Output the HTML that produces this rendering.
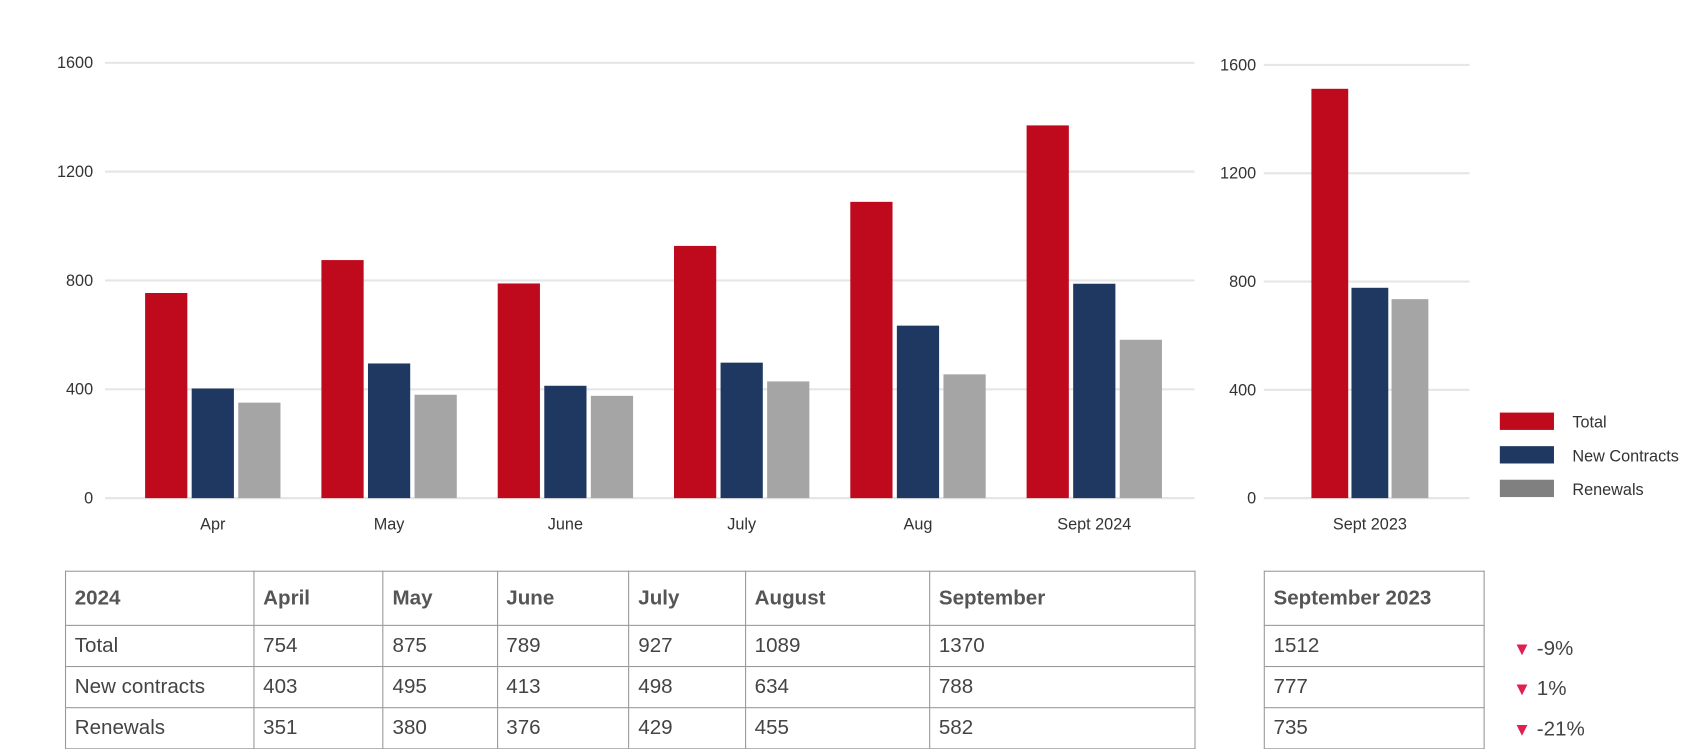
<!DOCTYPE html>
<html><head><meta charset="utf-8"><style>
html,body{margin:0;padding:0;background:#fff;width:1698px;height:748px;overflow:hidden}
#wrap{position:absolute;left:0;top:0;width:1568px;height:691px;transform:scale(1.08291);transform-origin:0 0;font-family:"Liberation Sans",sans-serif;color:#444}
svg text{font-family:"Liberation Sans",sans-serif;fill:#333;font-size:15px}
table{position:absolute;border-collapse:collapse;font-size:19px;color:#444}
td{border:1px solid #999;padding:0 0 0 8px;height:37px}
tr.h td{height:49px;font-weight:bold;color:#555}
.chg{position:absolute;left:1397px;font-size:19px;color:#444}
.chg span{color:#e0204f;font-size:17px}
</style></head><body>
<div id="wrap">
<svg id="svg" width="1568" height="520" style="position:absolute;left:0;top:0"></svg>
<table style="left:60px;top:527px;width:1044px">
<tr class="h"><td style="width:165px">2024</td><td>April</td><td>May</td><td>June</td><td>July</td><td>August</td><td>September</td></tr>
<tr><td>Total</td><td>754</td><td>875</td><td>789</td><td>927</td><td>1089</td><td>1370</td></tr>
<tr><td>New contracts</td><td>403</td><td>495</td><td>413</td><td>498</td><td>634</td><td>788</td></tr>
<tr><td>Renewals</td><td>351</td><td>380</td><td>376</td><td>429</td><td>455</td><td>582</td></tr>
</table>
<table style="left:1167px;top:527px;width:204px">
<tr class="h"><td>September 2023</td></tr>
<tr><td>1512</td></tr><tr><td>777</td></tr><tr><td>735</td></tr>
</table>
<div class="chg" style="top:589px"><span>▼</span> -9%</div>
<div class="chg" style="top:626px"><span>▼</span> 1%</div>
<div class="chg" style="top:663px"><span>▼</span> -21%</div>
</div>
<script>
const categories=["Apr","May","June","July","Aug","Sept 2024"];
const totalVals=[754,875,789,927,1089,1370];
const newVals=[403,495,413,498,634,788];
const renewVals=[351,380,376,429,455,582];
const cat2023=["Sept 2023"];
const total2023=[1512];
const new2023=[777];
const renew2023=[735];
const ticks=[0,400,800,1200,1600];
const colors=["#bf0a1e","#1f3862","#a5a5a5"];
const NS="http://www.w3.org/2000/svg";
const svg=document.getElementById('svg');
function mk(t,a){const e=document.createElementNS(NS,t);for(const k in a)e.setAttribute(k,a[k]);svg.appendChild(e);return e;}
function chart(x0,x1,y0,yTop,labX,cats,series,groupW,barW,gap,firstX,nameP){
  const y=v=>y0-(v/1600)*(y0-yTop);
  ticks.forEach(t=>{
    const l=mk('line',{x1:x0,x2:x1,y1:y(t),y2:y(t),stroke:'#e6e6e6','stroke-width':2});
    
    
    const tx=mk('text',{x:labX,y:y(t)+5,'text-anchor':'end'});tx.textContent=t;
    
    
  });
  cats.forEach((c,i)=>{
    const gx=firstX+i*groupW;
    series.forEach((s,j)=>{
      const r=mk('rect',{x:gx+j*(barW+gap),y:y(s[i]),width:barW,height:y0-y(s[i]),fill:colors[j]});
      
      
    });
    const tx=mk('text',{x:gx+(3*barW+2*gap)/2,y:489,'text-anchor':'middle'});tx.textContent=c;
    
    
  });
}
chart(97,1103,460,58,86,categories,[totalVals,newVals,renewVals],162.8,39,4,134,'');
chart(1167,1357,460,60,1160,cat2023,[total2023,new2023,renew2023],0,34,3,1211,'y2023-');
const leg=[["Total",381],["New Contracts",412],["Renewals",443]];
const legCol=["#bf0a1e","#1f3862","#808080"];
leg.forEach((l,i)=>{
  const r=mk('rect',{x:1385,y:l[1],width:50,height:16,fill:legCol[i]});
  
  
  const t=mk('text',{x:1452,y:l[1]+14});t.textContent=l[0];
  
  
});
</script>
</body></html>
